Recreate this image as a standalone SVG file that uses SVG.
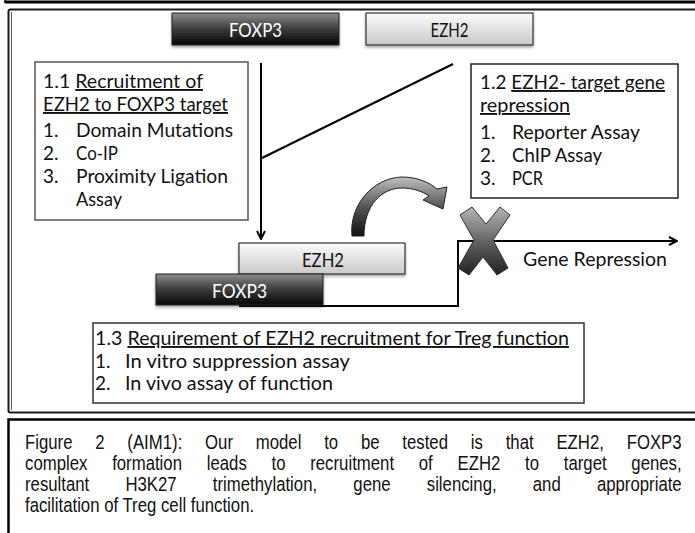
<svg xmlns="http://www.w3.org/2000/svg" width="695" height="533" viewBox="0 0 695 533">
<defs>
<linearGradient id="gDark" x1="0" y1="0" x2="0" y2="1">
<stop offset="0" stop-color="#8c8c8c"/><stop offset="0.5" stop-color="#3c3c3c"/><stop offset="1" stop-color="#050505"/>
</linearGradient>
<linearGradient id="gLight" x1="0" y1="0" x2="0" y2="1">
<stop offset="0" stop-color="#fbfbfb"/><stop offset="1" stop-color="#c9c9c9"/>
</linearGradient>
<linearGradient id="gX" x1="0" y1="0" x2="0" y2="1">
<stop offset="0" stop-color="#b5b5b5"/><stop offset="0.6" stop-color="#555"/><stop offset="1" stop-color="#222"/>
</linearGradient>
<linearGradient id="gArc" x1="0" y1="0" x2="0" y2="1">
<stop offset="0" stop-color="#c0c0c0"/><stop offset="0.5" stop-color="#555"/><stop offset="1" stop-color="#111"/>
</linearGradient>
<filter id="sh" x="-10%" y="-20%" width="120%" height="160%">
<feDropShadow dx="0" dy="2" stdDeviation="1.5" flood-color="#000" flood-opacity="0.35"/>
</filter>
<marker id="arr" viewBox="0 0 10 10" refX="9" refY="5" markerWidth="10" markerHeight="10" markerUnits="userSpaceOnUse" orient="auto">
<path d="M1,1 L9,5 L1,9" fill="none" stroke="#000" stroke-width="2"/>
</marker>
</defs>
<style>
.t{font-family:Lato,"Open Sans","Liberation Sans",sans-serif;font-size:19px;fill:#111}
.u{text-decoration:underline}
.box{fill:#fff;stroke:#333;stroke-width:1.5}
.cap{font-family:"Liberation Sans",Arial,sans-serif;font-size:19.5px;fill:#111}
.ln{fill:none;stroke:#000;stroke-width:2}
</style>

<!-- frames -->
<line x1="5" y1="2" x2="695" y2="2" stroke="#000" stroke-width="3"/>
<line x1="5" y1="0" x2="5" y2="3" stroke="#000" stroke-width="1.5"/>
<rect x="8.5" y="9.5" width="740" height="403" rx="2" fill="none" stroke="#1a1a1a" stroke-width="2"/>
<line x1="11.5" y1="12" x2="11.5" y2="410" stroke="#555" stroke-width="1"/>
<rect x="8.5" y="419.5" width="740" height="130" fill="none" stroke="#000" stroke-width="2.5"/>

<!-- connectors -->
<g id="connectors">
<line class="ln" x1="261" y1="63" x2="261" y2="239" marker-end="url(#arr)"/>
<line class="ln" x1="453" y1="64" x2="262" y2="158"/>
<polyline class="ln" points="239,306 458,306 458,241 677,241" marker-end="url(#arr)"/>
</g>

<g id="foxp3-top">
<rect x="172" y="13" width="167" height="32" fill="url(#gDark)" stroke="#222" stroke-width="1" filter="url(#sh)"/>
<text class="t" x="255.5" y="37" text-anchor="middle" style="fill:#fff" textLength="53" lengthAdjust="spacingAndGlyphs">FOXP3</text>
</g>
<g id="ezh2-top">
<rect x="366" y="13" width="167" height="32" fill="url(#gLight)" stroke="#333" stroke-width="1.2" filter="url(#sh)"/>
<text class="t" x="449.5" y="37" text-anchor="middle" textLength="38" lengthAdjust="spacingAndGlyphs">EZH2</text>
</g>

<g id="box11">
<rect class="box" x="35" y="62" width="213" height="158" style="stroke:#555"/>
<text class="t" x="43" y="88" textLength="160" lengthAdjust="spacingAndGlyphs">1.1 <tspan class="u">Recruitment of</tspan></text>
<text class="t u" x="43" y="111" textLength="185" lengthAdjust="spacingAndGlyphs">EZH2 to FOXP3 target</text>
<text class="t" x="43" y="137">1.</text><text class="t" x="76" y="137" textLength="157" lengthAdjust="spacingAndGlyphs">Domain Mutations</text>
<text class="t" x="43" y="160">2.</text><text class="t" x="76" y="160" textLength="42" lengthAdjust="spacingAndGlyphs">Co-IP</text>
<text class="t" x="43" y="183">3.</text><text class="t" x="76" y="183" textLength="152" lengthAdjust="spacingAndGlyphs">Proximity Ligation</text>
<text class="t" x="76" y="206" textLength="46" lengthAdjust="spacingAndGlyphs">Assay</text>
</g>

<g id="box12">
<rect class="box" x="471" y="64" width="207" height="134" style="stroke:#222"/>
<text class="t" x="480" y="89" textLength="185" lengthAdjust="spacingAndGlyphs">1.2 <tspan class="u">EZH2- target gene</tspan></text>
<text class="t u" x="480" y="112" textLength="90" lengthAdjust="spacingAndGlyphs">repression</text>
<text class="t" x="480" y="139">1.</text><text class="t" x="512" y="139" textLength="128" lengthAdjust="spacingAndGlyphs">Reporter Assay</text>
<text class="t" x="480" y="162">2.</text><text class="t" x="512" y="162" textLength="90" lengthAdjust="spacingAndGlyphs">ChIP Assay</text>
<text class="t" x="480" y="185">3.</text><text class="t" x="512" y="185" textLength="31" lengthAdjust="spacingAndGlyphs">PCR</text>
</g>

<g id="ezh2-bottom">
<rect x="239" y="243" width="166" height="31" fill="url(#gLight)" stroke="#333" stroke-width="1.2" filter="url(#sh)"/>
<text class="t" x="323" y="267" text-anchor="middle" textLength="42" lengthAdjust="spacingAndGlyphs">EZH2</text>
</g>
<g id="foxp3-bottom">
<rect x="156" y="274" width="167" height="31" fill="url(#gDark)" stroke="#222" stroke-width="1" filter="url(#sh)"/>
<text class="t" x="239.5" y="298" text-anchor="middle" style="fill:#fff" textLength="55" lengthAdjust="spacingAndGlyphs">FOXP3</text>
</g>

<g id="curved-arrow">
<path d="M352,236 C349,206 372,178 402,177 C418,177 430,183 437,189 L447,187 L443,209 L423,200 L429,196 C422,191 412,188 402,188 C382,188 364,205 364,236 Z" fill="url(#gArc)" stroke="#222" stroke-width="1"/>
</g>

<g id="x-mark">
<polygon points="472,207 486,224 500,207 510,215 493,240 508,268 497,275 483,257 469,275 458,268 474,240 460,215" fill="url(#gX)" stroke="#333" stroke-width="1"/>
</g>

<g id="gene-repression">
<text class="t" x="523" y="266" textLength="144" lengthAdjust="spacingAndGlyphs">Gene Repression</text>
</g>

<g id="box13">
<rect class="box" x="93" y="323" width="491" height="80"/>
<text class="t" x="95" y="345" textLength="474" lengthAdjust="spacingAndGlyphs">1.3 <tspan class="u">Requirement of EZH2 recruitment for Treg function</tspan></text>
<text class="t" x="95" y="368">1.</text><text class="t" x="125" y="368" textLength="225" lengthAdjust="spacingAndGlyphs">In vitro suppression assay</text>
<text class="t" x="95" y="390">2.</text><text class="t" x="125" y="390" textLength="208" lengthAdjust="spacingAndGlyphs">In vivo assay of function</text>
</g>

<g id="caption" transform="translate(25,0) scale(0.86,1)">
<text class="cap" x="0" y="449" word-spacing="21.07">Figure 2 (AIM1): Our model to be tested is that EZH2, FOXP3</text>
<text class="cap" x="0" y="470.5" word-spacing="23.35">complex formation leads to recruitment of EZH2 to target genes,</text>
<text class="cap" x="0" y="491.5" word-spacing="36.64">resultant H3K27 trimethylation, gene silencing, and appropriate</text>
<text class="cap" x="0" y="512.5">facilitation of Treg cell function.</text>
</g>
</svg>
